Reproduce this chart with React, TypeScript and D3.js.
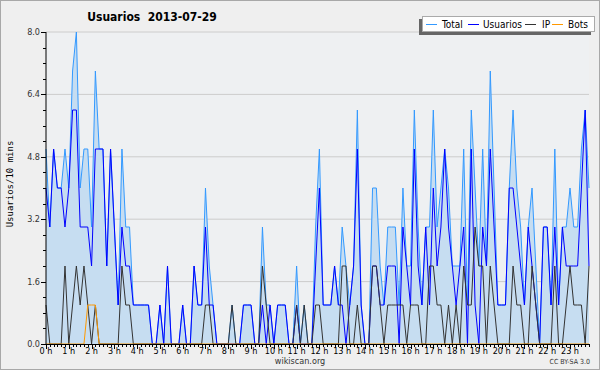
import React from "react";
import * as d3 from "d3";

const usuarios = [
  4,3,5,4,4,3,4,6,6,3,3,3,2,5,5,5,2,5,3,1,3,2,2,1,
  1,1,1,1,0,0,1,0,2,0,0,0,1,0,0,2,1,1,3,1,1,0,0,0,
  0,0,0,0,1,1,1,0,0,1,0,1,0,1,1,1,0,0,1,0,0,0,0,2,
  4,1,1,1,2,1,1,0,1,2,5,1,0,0,2,2,1,1,2,2,2,0,3,2,
  1,5,2,1,3,1,4,2,3,5,3,2,1,2,3,0,5,1,0,3,2,5,3,1,
  1,1,4,4,3,2,1,3,2,1,0,3,3,1,3,1,3,2,2,2,2,4,6,2,
];
const ip = [
  1,0,0,0,0,2,0,1,2,1,2,1,0,1,0,0,0,0,0,0,2,1,1,0,
  0,0,0,0,0,0,0,0,0,0,0,0,0,0,0,0,0,0,1,1,0,0,0,0,
  0,1,0,0,0,0,0,0,0,2,1,0,0,0,0,0,0,0,1,0,1,0,0,1,
  1,0,0,0,0,0,2,2,0,0,1,0,0,0,2,2,1,0,1,1,1,1,1,0,
  1,1,1,0,0,2,2,1,1,0,1,0,1,0,2,1,1,3,2,2,0,2,1,0,
  0,0,0,2,1,1,0,0,2,1,0,0,0,0,2,0,0,1,2,1,1,1,0,2,
];
const bots = [
  0,0,0,0,0,0,0,0,0,0,0,1,1,1,0,0,0,0,0,0,0,0,0,0,
  0,0,0,0,0,0,0,0,0,0,0,0,0,0,0,0,0,0,0,0,0,0,0,0,
  0,0,0,0,0,0,0,0,0,0,0,0,0,0,0,0,0,0,0,0,0,0,0,0,
  0,0,0,0,0,0,0,0,0,0,0,0,0,0,0,0,0,0,0,0,0,0,0,0,
  0,0,0,0,0,0,0,0,0,0,0,0,0,0,0,0,0,0,0,0,0,0,0,0,
  0,0,0,0,0,0,0,0,0,0,0,0,0,0,0,0,0,0,0,0,0,0,0,0,
];
const total = [
  5,3,5,4,4,5,4,7,8,4,5,5,3,7,5,5,2,5,3,1,5,3,3,1,
  1,1,1,1,0,0,1,0,2,0,0,0,1,0,0,2,1,1,4,2,1,0,0,0,
  0,1,0,0,1,1,1,0,0,3,1,1,0,1,1,1,0,0,2,0,1,0,0,3,
  5,1,1,1,2,1,3,2,1,2,6,1,0,0,4,4,2,1,3,3,3,1,4,2,
  2,6,3,1,3,3,6,3,4,5,4,2,2,2,5,1,6,4,2,5,2,7,4,1,
  1,1,4,6,4,3,1,3,4,2,0,3,3,1,5,1,3,3,4,3,3,5,6,4,
];
const hourLabels = d3.range(24).map((h) => `${h} h`);
const yTickLabels = ["0.0", "1.6", "3.2", "4.8", "6.4", "8.0"];
const legendNames = ["Total", "Usuarios", "IP", "Bots"];

const W = 600, H = 370;
const x = d3.scaleLinear().domain([0, 143]).range([46, 589]);
const y = d3.scaleLinear().domain([0, 8]).range([344, 32]);

const cond = "'DejaVu Sans Condensed', 'DejaVu Sans', sans-serif";

export default function App() {
  const line = d3.line<number>().x((_, i) => x(i)).y((d) => y(d));
  const area = d3.area<number>().x((_, i) => x(i)).y0(y(0)).y1((d) => y(d));
  const colors = ["#3399ff", "#0000ff", "#333333", "#ff9900"];
  const series = [total, usuarios, ip, bots];
  const minorY = d3.range(0, 8.01, 0.4);
  const majorY = yTickLabels.map((t) => +t);
  const legX = [426, 468, 525, 552];
  const legTX = [442, 483, 542, 568];
  return (
    <svg width={W} height={H} style={{ display: "block", position: "absolute", left: 0, top: 0 }}>
      <rect x={0.5} y={0.5} width={W - 1} height={H - 1} fill="#efefef" stroke="#a8a8a8" />
      <rect x={x(0)} y={y(8)} width={x(143) - x(0)} height={y(0) - y(8)} fill="#eef0f2" />
      {majorY.slice(1).map((v) => (
        <line key={v} x1={x(0)} x2={x(143)} y1={y(v)} y2={y(v)} stroke="#cccccc" strokeWidth={1} />
      ))}
      <path d={area(total) || ""} fill="#c6ddf1" />
      {series.map((s, k) => (
        <path key={k} d={line(s) || ""} fill="none" stroke={colors[k]} strokeWidth={1} />
      ))}
      <line x1={x(0)} x2={x(0)} y1={y(8)} y2={y(0)} stroke="#000" />
      <line x1={x(0)} x2={x(143)} y1={y(0) + 0.5} y2={y(0) + 0.5} stroke="#000" />
      {minorY.map((v, i) => (
        <line key={i} x1={x(0) - (i % 4 === 0 ? 5 : 3)} x2={x(0)} y1={Math.round(y(v)) + 0.5} y2={Math.round(y(v)) + 0.5} stroke="#000" />
      ))}
      {yTickLabels.map((t) => (
        <text key={t} x={40} y={y(+t) + 3} textAnchor="end" fontSize={9} fontFamily={cond} fill="#333">{t}</text>
      ))}
      {d3.range(144).map((i) => (
        <line key={i} x1={Math.round(x(i)) + 0.5} x2={Math.round(x(i)) + 0.5} y1={y(0)} y2={y(0) + (i % 6 === 0 ? 5 : 3)} stroke="#000" />
      ))}
      {hourLabels.map((t, h) => (
        <text key={t} x={x(h * 6)} y={354} textAnchor="middle" fontSize={9} fontFamily={cond} fill="#000">{t}</text>
      ))}
      <text transform="translate(13,184) rotate(-90)" textAnchor="middle" fontSize={9} fontFamily="'DejaVu Sans Mono', monospace" fill="#000">Usuarios/10 mins</text>
      <text x={152} y={21} textAnchor="middle" fontSize={12} fontWeight="bold" fontFamily={cond} fill="#000" xmlSpace="preserve">{"Usuarios\u00a0\u00a02013-07-29"}</text>
      <text x={300} y={364} textAnchor="middle" fontSize={9} fontFamily={cond} fill="#333">wikiscan.org</text>
      <text x={590} y={364} textAnchor="end" fontSize={7} fontFamily={cond} fill="#333">CC BY-SA 3.0</text>
      <rect x={419} y={19} width={172} height={16} fill="#666" />
      <rect x={422.5} y={16.5} width={172} height={15} fill="#fff" stroke="#aaa" />
      {legendNames.map((n, k) => (
        <g key={n}>
          <line x1={legX[k]} x2={legX[k] + 11} y1={24.5} y2={24.5} stroke={colors[k]} />
          <text x={legTX[k]} y={28} fontSize={10} fontFamily={cond} fill="#000">{n}</text>
        </g>
      ))}
    </svg>
  );
}
